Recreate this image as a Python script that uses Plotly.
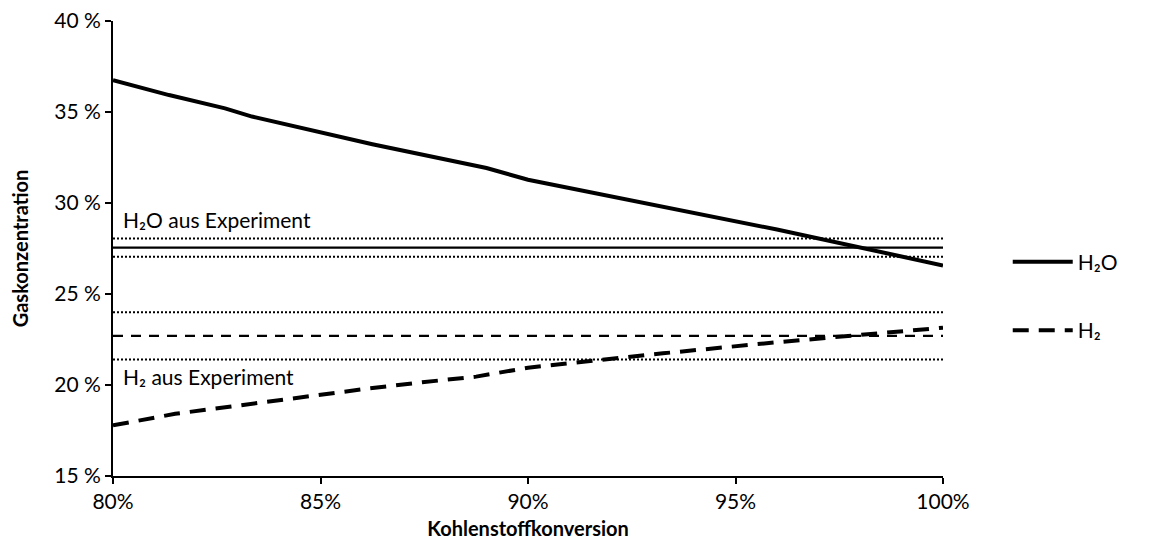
import plotly.graph_objects as go

# --- data (values in percent) ---
conversion_h2o = [80, 81.35, 82.7, 83.35, 86.25, 89.0, 90.0, 96.0, 100]
h2o_sim = [36.75, 35.93, 35.2, 34.75, 33.23, 31.92, 31.28, 28.54, 26.57]

conversion_h2 = [80, 81.5, 82.85, 84.8, 86.1, 87.45, 88.75, 90.0, 93.25, 95.95, 100]
h2_sim = [17.78, 18.42, 18.82, 19.42, 19.79, 20.15, 20.46, 20.95, 21.74, 22.34, 23.15]

x_range = [80, 100]
h2o_exp = 27.55
h2o_exp_err = 0.5
h2_exp = 22.7
h2_exp_err = 1.3

x_ticks = [80, 85, 90, 95, 100]
y_ticks = [15, 20, 25, 30, 35, 40]

FONT = "Lato, 'Noto Sans', sans-serif"
FS = 21

fig = go.Figure()

# experimental H2O band
fig.add_trace(go.Scatter(x=x_range, y=[h2o_exp + h2o_exp_err] * 2, mode="lines",
                         line=dict(color="black", width=2, dash="2px,2px"), showlegend=False, hoverinfo="skip"))
fig.add_trace(go.Scatter(x=x_range, y=[h2o_exp] * 2, mode="lines",
                         line=dict(color="black", width=2.2), showlegend=False, hoverinfo="skip"))
fig.add_trace(go.Scatter(x=x_range, y=[h2o_exp - h2o_exp_err] * 2, mode="lines",
                         line=dict(color="black", width=2, dash="2px,2px"), showlegend=False, hoverinfo="skip"))
# experimental H2 band
fig.add_trace(go.Scatter(x=x_range, y=[h2_exp + h2_exp_err] * 2, mode="lines",
                         line=dict(color="black", width=2, dash="2px,2px"), showlegend=False, hoverinfo="skip"))
fig.add_trace(go.Scatter(x=x_range, y=[h2_exp] * 2, mode="lines",
                         line=dict(color="black", width=2.2, dash="10px,8px"), showlegend=False, hoverinfo="skip"))
fig.add_trace(go.Scatter(x=x_range, y=[h2_exp - h2_exp_err] * 2, mode="lines",
                         line=dict(color="black", width=2, dash="2px,2px"), showlegend=False, hoverinfo="skip"))

# simulated curves
fig.add_trace(go.Scatter(x=conversion_h2o, y=h2o_sim, mode="lines", name="H₂O",
                         line=dict(color="black", width=4), legendgroup="a"))
fig.add_trace(go.Scatter(x=conversion_h2, y=h2_sim, mode="lines", name="H₂",
                         line=dict(color="black", width=4, dash="16px,10px"), legendgroup="b"))

fig.add_annotation(x=80.2, y=29.1, xref="x", yref="y", text="H₂O aus Experiment", showarrow=False,
                   xanchor="left", yanchor="middle", font=dict(family=FONT, size=FS, color="black"))
fig.add_annotation(x=80.2, y=20.45, xref="x", yref="y", text="H₂ aus Experiment", showarrow=False,
                   xanchor="left", yanchor="middle", font=dict(family=FONT, size=FS, color="black"))

fig.update_layout(
    width=1147, height=539,
    margin=dict(l=105, r=212, t=13, b=71),
    paper_bgcolor="white", plot_bgcolor="white",
    font=dict(family=FONT, size=FS, color="black"),
    showlegend=True,
    legend=dict(x=1.078, xanchor="left", y=0.515, yanchor="top", tracegroupgap=38, itemwidth=60,
                font=dict(family=FONT, size=FS, color="black"), bgcolor="rgba(0,0,0,0)"),
    xaxis=dict(range=x_range, tickvals=x_ticks, ticktext=[f"{v}%" for v in x_ticks],
               showgrid=False, zeroline=False, showline=True, linecolor="black", linewidth=2,
               ticks="outside", ticklen=6, tickwidth=2, tickcolor="black", automargin=False,
               ticklabeloverflow="allow",
               title=dict(text="<b>Kohlenstoffkonversion</b>", standoff=10,
                          font=dict(family=FONT, size=20, color="black"))),
    yaxis=dict(range=[15, 40], tickvals=y_ticks, ticktext=[f"{v} %" for v in y_ticks],
               showgrid=False, zeroline=False, showline=True, linecolor="black", linewidth=2,
               ticks="outside", ticklen=6, tickwidth=2, tickcolor="black", automargin=False,
               ticklabeloverflow="allow",
               title=dict(text="<b>Gaskonzentration</b>", standoff=28,
                          font=dict(family=FONT, size=20, color="black"))),
)

fig.write_html("out.html")
